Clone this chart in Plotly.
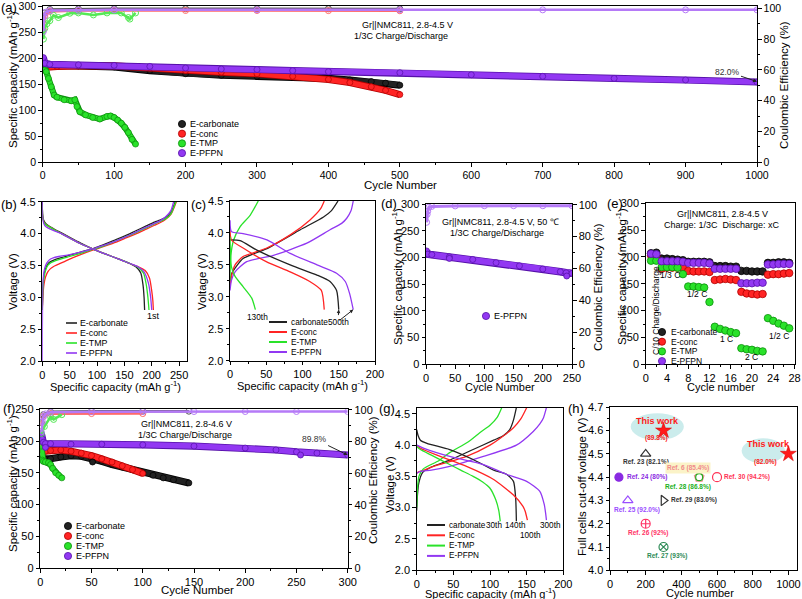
import plotly.graph_objects as go

W, H = 802, 599
FONT = "Arial, 'Liberation Sans', Helvetica, sans-serif"
TICK_A = 10.5
TICK = 11
TITLE = 11.5
TITLE_S = 11

K, K_E = "#222222", "#000000"
R, R_E = "#ff2424", "#b00000"
G, G_E = "#2ae22a", "#0b8f0b"
P, P_E = "#9238f2", "#5510a8"
P_CE = "#b57af7"

# ================= DATA =================
# (a) Gr||NMC811 2.8-4.5 V, 1/3C, 1000 cycles
a_carb_cyc = [1, 5, 20, 50, 80, 100, 150, 200, 250, 300, 350, 400, 430, 460, 480, 500]
a_carb_cap = [184, 185, 186, 185, 184, 183, 176, 170, 167, 165, 164, 161, 158, 155, 152, 148]
a_conc_cyc = [1, 5, 20, 50, 100, 150, 200, 250, 300, 350, 400, 430, 460, 480, 500]
a_conc_cap = [182, 183, 184, 185, 185, 181, 176, 173, 170, 165, 159, 153, 145, 138, 130]
a_tmp_cyc = [1, 3, 5, 8, 12, 16, 20, 30, 40, 45, 48, 52, 60, 70, 80, 90, 95, 100, 105, 110, 115, 120, 125, 130]
a_tmp_cap = [190, 177, 174, 161, 145, 129, 125, 120, 118, 120, 107, 97, 91, 86, 83, 88, 89, 86, 81, 75, 67, 57, 44, 35]
a_pfpn_cyc = [1, 3, 10, 50, 100, 150, 200, 250, 300, 350, 400, 500, 600, 700, 800, 900, 1000]
a_pfpn_cap = [201, 190, 188, 187, 186, 184, 181, 179, 178, 176, 174, 172, 168, 165, 161, 158, 154]
a_ce_carb_cyc = [1, 3, 10, 50, 100, 200, 300, 400, 500]
a_ce_carb = [90, 97, 99.3, 99.6, 99.7, 99.7, 99.7, 99.7, 99.6]
a_ce_conc_cyc = [1, 3, 10, 50, 100, 200, 300, 400, 500]
a_ce_conc = [86, 95, 98, 98.5, 98.6, 98.6, 98.6, 98.5, 98.4]
a_ce_conc_out_cyc = [152, 366, 449]
a_ce_conc_out = [97.2, 95.7, 95.7]
a_ce_tmp_cyc = [1, 3, 6, 10, 15, 22, 38, 50, 71, 90, 110, 120, 122, 130]
a_ce_tmp = [80, 87, 90, 92, 95.5, 94, 96.8, 97, 95.7, 97, 97, 94, 93, 97]
a_ce_pfpn_cyc = [1, 2, 4, 10, 50, 100, 300, 500, 700, 900, 1000]
a_ce_pfpn = [85, 94.6, 97.5, 98.5, 98.8, 99, 99, 99, 99, 99, 99]
a_ce_pfpn_out_cyc = [675, 935]
a_ce_pfpn_out = [96.5, 98.0]

# (b) 1st cycle voltage profiles
b_carb_ch_q = [0, 1, 3, 6, 10, 15, 20, 30, 50, 70, 92, 110, 130, 150, 170, 190, 205, 215, 225, 235, 243]
b_carb_ch_v = [2.8, 3.15, 3.35, 3.45, 3.52, 3.56, 3.58, 3.61, 3.66, 3.71, 3.76, 3.82, 3.89, 3.96, 4.04, 4.12, 4.18, 4.21, 4.25, 4.33, 4.5]
b_conc_ch_q = [0, 1, 3, 6, 10, 15, 20, 30, 50, 70, 92, 110, 130, 150, 170, 190, 205, 215, 225, 235, 245]
b_conc_ch_v = [2.8, 3.0, 3.2, 3.32, 3.4, 3.45, 3.48, 3.52, 3.6, 3.67, 3.74, 3.79, 3.85, 3.92, 3.99, 4.07, 4.13, 4.17, 4.22, 4.3, 4.5]
b_tmp_ch_q = [0, 1, 3, 6, 10, 15, 20, 30, 50, 70, 92, 110, 130, 150, 170, 190, 205, 215, 225, 235, 244]
b_tmp_ch_v = [2.8, 3.1, 3.3, 3.42, 3.5, 3.54, 3.56, 3.59, 3.64, 3.69, 3.75, 3.8, 3.87, 3.94, 4.01, 4.09, 4.15, 4.19, 4.23, 4.31, 4.5]
b_pfpn_ch_q = [0, 1, 3, 6, 10, 15, 20, 30, 50, 70, 92, 110, 130, 150, 170, 190, 205, 215, 225, 235, 240]
b_pfpn_ch_v = [2.0, 3.2, 3.4, 3.5, 3.56, 3.6, 3.62, 3.64, 3.67, 3.71, 3.76, 3.81, 3.87, 3.94, 4.02, 4.1, 4.16, 4.2, 4.26, 4.36, 4.5]
b_carb_dc_q = [0, 0.5, 2, 5, 10, 20, 35, 50, 70, 92, 115, 140, 160, 172, 180, 184, 186, 187]
b_carb_dc_v = [4.5, 4.3, 4.22, 4.17, 4.13, 4.08, 4.01, 3.94, 3.85, 3.76, 3.68, 3.6, 3.53, 3.47, 3.38, 3.2, 3.0, 2.8]
b_conc_dc_q = [0, 0.5, 2, 5, 10, 20, 35, 50, 70, 92, 115, 140, 160, 175, 188, 196, 200, 202, 203]
b_conc_dc_v = [4.45, 4.28, 4.2, 4.15, 4.12, 4.07, 4.0, 3.93, 3.84, 3.76, 3.68, 3.6, 3.53, 3.48, 3.42, 3.3, 3.1, 2.95, 2.8]
b_tmp_dc_q = [0, 0.5, 2, 5, 10, 20, 35, 50, 70, 92, 115, 140, 160, 175, 185, 190, 193, 195]
b_tmp_dc_v = [4.45, 4.3, 4.2, 4.15, 4.12, 4.07, 4.0, 3.93, 3.84, 3.76, 3.68, 3.6, 3.53, 3.47, 3.38, 3.2, 3.0, 2.8]
b_pfpn_dc_q = [0, 0.5, 2, 5, 10, 20, 35, 50, 70, 92, 115, 140, 160, 175, 186, 194, 198, 200]
b_pfpn_dc_v = [4.5, 4.28, 4.18, 4.12, 4.09, 4.05, 4.0, 3.93, 3.84, 3.76, 3.68, 3.6, 3.53, 3.48, 3.4, 3.22, 3.0, 2.8]

# (c) late-cycle voltage profiles
c_carb_ch_q = [0, 1, 3, 7, 18, 50, 97, 129, 140, 149]
c_carb_ch_v = [3.2, 3.3, 3.38, 3.45, 3.6, 3.75, 4.05, 4.25, 4.35, 4.5]
c_carb_dc_q = [0, 14, 37, 83, 120, 138, 147, 150]
c_carb_dc_v = [3.89, 3.88, 3.73, 3.5, 3.34, 3.24, 3.1, 2.8]
c_conc_ch_q = [0, 2, 7, 18, 50, 83, 110, 125, 130]
c_conc_ch_v = [3.16, 3.32, 3.5, 3.63, 3.76, 3.97, 4.2, 4.38, 4.5]
c_conc_dc_q = [0, 2, 23, 50, 83, 110, 126, 130]
c_conc_dc_v = [4.07, 3.89, 3.73, 3.55, 3.39, 3.24, 3.1, 2.8]
c_tmp_ch_q = [0, 1, 5, 14, 28, 39]
c_tmp_ch_v = [3.25, 3.63, 3.89, 4.1, 4.28, 4.5]
c_tmp_dc_q = [0, 2, 7, 18, 30, 35]
c_tmp_dc_v = [3.94, 3.47, 3.32, 3.16, 2.98, 2.8]
c_pfpn_ch_q = [0, 2, 7, 23, 60, 106, 138, 154, 161, 167, 170]
c_pfpn_ch_v = [3.1, 3.26, 3.39, 3.55, 3.65, 3.84, 4.05, 4.15, 4.23, 4.35, 4.5]
c_pfpn_dc_q = [0, 2, 18, 51, 83, 120, 147, 159, 165, 170]
c_pfpn_dc_v = [4.2, 4.02, 3.99, 3.89, 3.68, 3.5, 3.37, 3.24, 3.05, 2.8]

# (d) E-PFPN at 50 C
d_cyc = [1, 3, 10, 40, 80, 120, 160, 200, 230, 240, 250]
d_cap = [212, 206, 205, 201, 196, 190, 184, 178, 173, 171, 170]
d_out_cyc = [40, 241]
d_out_cap = [198, 165]
d_ce_cyc = [1, 2, 3, 5, 10, 50, 100, 150, 200, 250]
d_ce = [89, 94, 96, 98.5, 99, 99.3, 99.4, 99.4, 99.4, 99.4]
d_ce_out_cyc = [40, 241]
d_ce_out = [99.2, 97.3]

# (e) rate capability
e_cyc = [1, 2, 3, 4, 5, 6, 7, 8, 9, 10, 11, 12, 13, 14, 15, 16, 17, 18, 19, 20, 21, 22, 23, 24, 25, 26, 27]
e_carb = [207, 208, 197, 197, 196, 195, 194, 191, 191, 191, 191, 190, 183, 183, 183, 182, 182, 174, 174, 173, 173, 173, 189, 189, 190, 190, 189]
e_conc = [203, 202, 178, 180, 180, 180, 180, 174, 173, 173, 173, 172, 157, 158, 159, 158, 157, 135, 132, 131, 130, 131, 167, 168, 168, 169, 170]
e_tmp = [193, 193, 181, 181, 181, 180, 168, 145, 145, 144, 143, 116, 70, 66, 63, 60, 58, 30, 28, 27, 25, 24, 86, 81, 76, 72, 67]
e_pfpn = [206, 205, 192, 192, 192, 192, 191, 189, 189, 189, 189, 188, 178, 178, 178, 178, 178, 151, 151, 151, 152, 152, 186, 186, 187, 187, 187]
e_xticks = [0, 4, 8, 12, 16, 20, 24, 28]

# (f) Gr||NMC811 2.8-4.6 V
f_carb_cyc = [1, 5, 10, 20, 30, 40, 50, 60, 70, 80, 90, 100, 110, 120, 130, 145]
f_carb_cap = [172, 171, 172, 175, 177, 176, 173, 168, 163, 159, 155, 150, 146, 142, 139, 134]
f_conc_cyc = [1, 2, 5, 10, 20, 30, 40, 50, 60, 70, 80, 90, 100]
f_conc_cap = [190, 186, 184, 185, 186, 184, 181, 177, 172, 167, 161, 155, 149]
f_tmp_cyc = [1, 2, 3, 5, 8, 10, 12, 15, 18, 21]
f_tmp_cap = [192, 170, 168, 167, 166, 163, 157, 150, 146, 142]
f_pfpn_cyc = [1, 2, 3, 5, 10, 30, 60, 100, 150, 200, 230, 250, 270, 300]
f_pfpn_cap = [212, 203, 198, 196, 196, 195, 195, 194, 192, 189, 186, 183, 181, 178]
f_out_carb_cyc = [51]
f_out_carb = [167]
f_out_pfpn_cyc = [5, 254]
f_out_pfpn = [190, 178]
f_ce_main_cyc = [1, 2, 3, 5, 10, 50, 100, 150, 200, 250, 300]
f_ce_pfpn = [86, 92.5, 95.6, 97.5, 98.5, 98.9, 99, 99, 99, 99, 99]
f_ce_conc_cyc = [1, 3, 10, 50, 100]
f_ce_conc = [90, 96, 97.6, 97.7, 97.7]
f_ce_carb_cyc = [1, 3, 10, 50, 100, 145]
f_ce_carb = [92, 97, 98.8, 99.2, 99.2, 99.2]
f_ce_tmp_cyc = [1, 4, 10, 13, 21]
f_ce_tmp = [85, 89.5, 95.6, 94, 97]
f_ce_out_cyc = [52, 255]
f_ce_out = [97.2, 97.0]

# (g) late-cycle voltage profiles at 4.6 V
g_carb_ch_q = [0, 1, 3, 8, 20, 45, 77, 105, 118, 127, 132, 136]
g_carb_ch_v = [2.95, 3.2, 3.4, 3.56, 3.65, 3.76, 3.93, 4.08, 4.15, 4.25, 4.4, 4.6]
g_carb_dc_q = [0, 2, 5, 14, 45, 77, 105, 123, 132, 135, 136]
g_carb_dc_v = [4.25, 4.15, 4.08, 4.03, 3.93, 3.77, 3.6, 3.53, 3.42, 3.15, 2.78]
g_tmp_ch_q = [0, 1, 3, 9, 30, 45, 70, 86, 100, 110, 116]
g_tmp_ch_v = [3.0, 3.3, 3.5, 3.62, 3.75, 3.88, 4.05, 4.2, 4.32, 4.45, 4.6]
g_tmp_dc_q = [0, 5, 20, 45, 60, 77, 90, 100, 108, 112, 114]
g_tmp_dc_v = [3.98, 3.93, 3.84, 3.69, 3.6, 3.5, 3.41, 3.31, 3.12, 2.95, 2.78]
g_conc_ch_q = [0, 2, 10, 23, 68, 100, 114, 132, 142, 150]
g_conc_ch_v = [3.55, 3.57, 3.6, 3.66, 3.82, 4.0, 4.11, 4.28, 4.42, 4.6]
g_conc_dc_q = [0, 5, 32, 68, 105, 132, 145, 148, 151]
g_conc_dc_v = [4.0, 3.95, 3.82, 3.66, 3.45, 3.2, 3.02, 2.94, 2.8]
g_pfpn_ch_q = [0, 5, 20, 45, 91, 136, 159, 168, 173, 177]
g_pfpn_ch_v = [3.55, 3.58, 3.6, 3.66, 3.82, 4.0, 4.22, 4.34, 4.44, 4.6]
g_pfpn_dc_q = [0, 10, 45, 91, 123, 150, 168, 174, 176, 177]
g_pfpn_dc_v = [4.0, 3.95, 3.82, 3.69, 3.53, 3.42, 3.26, 3.05, 2.9, 2.8]

# (h) comparison with literature
h_labels = ["Ref. 23 (82.1%)", "Ref. 24 (80%)", "Ref. 6 (85.4%)", "Ref. 28 (86.8%)",
            "Ref. 30 (94.2%)", "Ref. 25 (92.0%)", "Ref. 29 (83.0%)", "Ref. 26 (92%)", "Ref. 27 (93%)"]
h_cycles = [200, 50, 500, 500, 600, 100, 300, 200, 300]
h_volts = [4.5, 4.4, 4.4, 4.4, 4.4, 4.3, 4.3, 4.2, 4.1]
h_this_cycles = [300, 1000]
h_this_volts = [4.6, 4.5]
h_this_ret = ["(89.8%)", "(82.0%)"]

# ================= FIGURE =================
fig = go.Figure()
layout = dict(width=W, height=H, margin=dict(l=0, r=0, t=0, b=0, pad=0),
              paper_bgcolor="white", plot_bgcolor="white", showlegend=False,
              font=dict(family=FONT, size=11, color="black"))
shapes, annos = [], []


def dom(l, r, t, b):
    return [l / W, r / W], [1 - b / H, 1 - t / H]


def axkey(a):
    return a[0] + "axis" + a[1:]


def base_axis(rng, dtick, anchor, minor=None, fmt=None, mirror=True, tsize=TICK):
    d = dict(range=rng, dtick=dtick, tick0=0, anchor=anchor, showline=True, mirror=mirror,
             automargin=False, ticklabeloverflow="allow",
             linecolor="black", linewidth=1, ticks="outside", ticklen=3.5, tickwidth=1,
             tickcolor="black", showgrid=False, zeroline=False,
             tickfont=dict(family=FONT, size=tsize, color="black"))
    if minor:
        d["minor"] = dict(dtick=minor, ticks="outside", ticklen=2, tickcolor="black", showgrid=False)
    if fmt:
        d["tickformat"] = fmt
    return d


def panel(xa, ya, box, xr, xd, yr, yd, xminor=None, yminor=None, yfmt=None, ce=None, tsize=TICK):
    xdom, ydom = dom(*box)
    ax = base_axis(xr, xd, ya, xminor, tsize=tsize)
    ax["domain"] = xdom
    ay = base_axis(yr, yd, xa, yminor, yfmt, tsize=tsize)
    ay["domain"] = ydom
    layout[axkey(xa)] = ax
    layout[axkey(ya)] = ay
    if ce:
        yc, cer = ce
        ac = base_axis(cer, 20, xa, 10, mirror=False, tsize=tsize)
        ac.update(overlaying=ya, side="right")
        layout[axkey(yc)] = ac


def txt(px, py, text, size=9, color="black", xanchor="center", angle=0, bold=False, bg=None):
    a = dict(x=px / W, y=1 - py / H, xref="paper", yref="paper", text=("<b>%s</b>" % text) if bold else text,
             showarrow=False, xanchor=xanchor, yanchor="middle", textangle=angle,
             font=dict(family=FONT, size=size, color=color))
    if bg:
        a["bgcolor"] = bg
    annos.append(a)


def dot_swatch(px, py, color, edge, r=3.6):
    shapes.append(dict(type="circle", xref="paper", yref="paper", xsizemode="pixel", ysizemode="pixel",
                       xanchor=px / W, yanchor=1 - py / H, x0=-r, x1=r, y0=-r, y1=r,
                       fillcolor=color, line=dict(color=edge, width=0.8)))


def line_swatch(px0, px1, py, color, width=1.5):
    shapes.append(dict(type="line", xref="paper", yref="paper", x0=px0 / W, x1=px1 / W,
                       y0=1 - py / H, y1=1 - py / H, line=dict(color=color, width=width)))


def band(x, y, xa, ya, color, edge, width=5.5, msize=6):
    fig.add_trace(go.Scatter(x=x, y=y, xaxis=xa, yaxis=ya, mode="lines", hoverinfo="skip",
                             line=dict(color=edge, width=width + 1.6)))
    fig.add_trace(go.Scatter(x=x, y=y, xaxis=xa, yaxis=ya, mode="lines+markers", hoverinfo="skip",
                             line=dict(color=color, width=width),
                             marker=dict(size=msize, color=color, line=dict(color=edge, width=0.7))))


def pts(x, y, xa, ya, color, edge, size=6, symbol="circle"):
    fig.add_trace(go.Scatter(x=x, y=y, xaxis=xa, yaxis=ya, mode="markers", hoverinfo="skip",
                             marker=dict(size=size, color=color, symbol=symbol, line=dict(color=edge, width=0.8))))


def ceband(x, y, xa, ya, color, width=2.5):
    fig.add_trace(go.Scatter(x=x, y=y, xaxis=xa, yaxis=ya, mode="lines+markers", hoverinfo="skip",
                             line=dict(color=color, width=width),
                             marker=dict(size=6, symbol="circle-open", color=color, line=dict(width=1))))


def curve(x, y, xa, ya, color, width=1.3):
    fig.add_trace(go.Scatter(x=x, y=y, xaxis=xa, yaxis=ya, mode="lines", hoverinfo="skip",
                             line=dict(color=color, width=width, shape="spline", smoothing=0.6)))


CAP_T = "Specific capacity (mAh g<sup>-1</sup>)"
CE_T = "Coulombic Efficiency (%)"

# ---------- (a) ----------
panel("x", "y", (42.7, 757, 6, 162.3), [0, 1000], 100, [0, 300], 50, xminor=50, yminor=25,
      ce=("y2", [0, 101.5]), tsize=TICK_A)
ceband(a_ce_carb_cyc, a_ce_carb, "x", "y2", "#555555")
ceband(a_ce_conc_cyc, a_ce_conc, "x", "y2", "#ff6a6a")
ceband(a_ce_tmp_cyc, a_ce_tmp, "x", "y2", "#55e855")
ceband(a_ce_pfpn_cyc, a_ce_pfpn, "x", "y2", P_CE)
pts(a_ce_conc_out_cyc, a_ce_conc_out, "x", "y2", "rgba(0,0,0,0)", "#ff6a6a", 6, "circle-open")
pts(a_ce_pfpn_out_cyc, a_ce_pfpn_out, "x", "y2", "rgba(0,0,0,0)", P_CE, 6, "circle-open")
band(a_carb_cyc, a_carb_cap, "x", "y", K, K_E)
band(a_conc_cyc, a_conc_cap, "x", "y", R, R_E)
band(a_tmp_cyc, a_tmp_cap, "x", "y", G, G_E, width=4.5)
band(a_pfpn_cyc, a_pfpn_cap, "x", "y", P, P_E)
txt(9, 8, "(a)", 13)
txt(407, 25, "Gr||NMC811, 2.8-4.5 V", 9)
txt(401, 36, "1/3C Charge/Discharge", 9)
txt(400, 185, "Cycle Number", TITLE)
txt(12, 80, CAP_T, TITLE, angle=-90)
txt(784, 85, CE_T, TITLE, angle=-90)
annos.append(dict(x=1000, y=155, xref="x", yref="y", text="82.0%", showarrow=True, ax=-30, ay=-10,
                  arrowhead=2, arrowsize=0.8, arrowwidth=1, arrowcolor="#222",
                  font=dict(family=FONT, size=8.5, color="#333")))
for i, (nm, c, e) in enumerate([("E-carbonate", K, K_E), ("E-conc", R, R_E), ("E-TMP", G, G_E), ("E-PFPN", P, P_E)]):
    yy = 124 + i * 9.7
    dot_swatch(182, yy, c, e)
    txt(188, yy, nm, 9, xanchor="left")

# ---------- (b) ----------
panel("x2", "y3", (42.3, 187.3, 201.7, 361), [0, 265], 50, [2.0, 4.5], 0.5, xminor=25, yminor=0.25, yfmt=".1f")
for q, v, c in [(b_carb_ch_q, b_carb_ch_v, K), (b_conc_ch_q, b_conc_ch_v, R), (b_tmp_ch_q, b_tmp_ch_v, G),
                (b_pfpn_ch_q, b_pfpn_ch_v, P), (b_carb_dc_q, b_carb_dc_v, K), (b_conc_dc_q, b_conc_dc_v, R),
                (b_tmp_dc_q, b_tmp_dc_v, G), (b_pfpn_dc_q, b_pfpn_dc_v, P)]:
    curve(q, v, "x2", "y3", c)
txt(9, 205, "(b)", 13)
txt(153, 316, "1st", 9)
txt(115, 386, CAP_T, TITLE_S)
txt(13, 282, "Voltage (V)", TITLE, angle=-90)
for i, (nm, c) in enumerate([("E-carbonate", K), ("E-conc", R), ("E-TMP", G), ("E-PFPN", P)]):
    yy = 323 + i * 10
    line_swatch(66, 77, yy, c, 1.6)
    txt(78, yy, nm, 8.8, xanchor="left")

# ---------- (c) ----------
panel("x3", "y4", (230, 375, 201, 360.7), [0, 200], 50, [2.0, 4.5], 0.5, xminor=25, yminor=0.25, yfmt=".1f")
for q, v, c in [(c_carb_ch_q, c_carb_ch_v, K), (c_conc_ch_q, c_conc_ch_v, R), (c_tmp_ch_q, c_tmp_ch_v, G),
                (c_pfpn_ch_q, c_pfpn_ch_v, P), (c_carb_dc_q, c_carb_dc_v, K), (c_conc_dc_q, c_conc_dc_v, R),
                (c_tmp_dc_q, c_tmp_dc_v, G), (c_pfpn_dc_q, c_pfpn_dc_v, P)]:
    curve(q, v, "x3", "y4", c)
txt(198, 205, "(c)", 13)
txt(257, 317, "130th", 8.3)
for i, xx in enumerate((c_carb_dc_q[-1], c_pfpn_dc_q[-1])):
    annos.append(dict(x=xx, y=2.8, xref="x3", yref="y4", text="500th" if i == 0 else "",
                      showarrow=True, ax=338 - (230 + xx * 0.725), ay=12, arrowhead=2, arrowsize=0.7,
                      arrowwidth=1, arrowcolor="#222", font=dict(family=FONT, size=8.3, color="black")))
txt(302, 385, CAP_T, TITLE_S)
txt(202, 282, "Voltage (V)", TITLE, angle=-90)
for i, (nm, c) in enumerate([("carbonate", K), ("E-conc", R), ("E-TMP", G), ("E-PFPN", P)]):
    yy = 322 + i * 10
    line_swatch(269, 287, yy, c, 2)
    txt(289, yy, nm, 8.3, xanchor="left")

# ---------- (d) ----------
panel("x4", "y5", (426, 572, 204, 364), [0, 250], 50, [0, 300], 50, xminor=25, yminor=25,
      ce=("y6", [0, 100.5]))
ceband(d_ce_cyc, d_ce, "x4", "y6", P_CE, 3)
pts(d_ce_out_cyc, d_ce_out, "x4", "y6", "rgba(0,0,0,0)", P_CE, 6, "circle-open")
band(d_cyc, d_cap, "x4", "y5", P, P_E, width=6)
pts(d_out_cyc, d_out_cap, "x4", "y5", P, P_E, 6)
txt(389, 204, "(d)", 13)
txt(500, 222, "Gr||NMC811, 2.8-4.5 V, 50 \u2103", 9)
txt(497, 233, "1/3C Charge/Discharge", 9)
txt(500, 387, "Cycle Number", TITLE_S)
txt(397, 277, CAP_T, TITLE, angle=-90)
txt(598, 287, CE_T, TITLE, angle=-90)
dot_swatch(486, 316, P, P_E)
txt(492, 316, "E-PFPN", 9, xanchor="left")

# ---------- (e) ----------
panel("x5", "y7", (645.7, 794.5, 203.3, 364.3), [0, 28], 4, [0, 300], 50, xminor=2, yminor=25)
layout["xaxis5"].update(tickmode="array", tickvals=e_xticks, ticktext=[str(v) for v in e_xticks])
for ys, c, e in [(e_carb, K, K_E), (e_conc, R, R_E), (e_tmp, G, G_E), (e_pfpn, P, P_E)]:
    pts(e_cyc, ys, "x5", "y7", c, e, 7.5)
txt(615, 204, "(e)", 13)
txt(722, 214, "Gr||NMC811, 2.8-4.5 V", 9)
txt(722, 225, "Charge: 1/3C  Discharge: xC", 9)
txt(670, 275, "1/3 C", 8.5)
txt(697, 294, "1/2 C", 8.5)
txt(726, 339, "1 C", 8.5)
txt(751, 357, "2 C", 8.5)
txt(779, 336, "1/2 C", 8.5)
txt(656, 311, "C/10 Charge/Discharge", 8.5, angle=-90)
txt(721, 387, "Cycle number", TITLE_S)
txt(621, 277, CAP_T, TITLE, angle=-90)
for i, (nm, c, e) in enumerate([("E-carbonate", K, K_E), ("E-conc", R, R_E), ("E-TMP", G, G_E), ("E-PFPN", P, P_E)]):
    yy = 332 + i * 9.7
    dot_swatch(662, yy, c, e)
    txt(669, yy, nm, 8.5, xanchor="left")

# ---------- (f) ----------
panel("x6", "y8", (40.3, 347.7, 409.3, 568), [0, 300], 50, [0, 250], 50, xminor=25, yminor=25,
      ce=("y9", [0, 100.4]))
ceband(f_ce_carb_cyc, f_ce_carb, "x6", "y9", "#555555")
ceband(f_ce_conc_cyc, f_ce_conc, "x6", "y9", "#ff6a6a")
ceband(f_ce_tmp_cyc, f_ce_tmp, "x6", "y9", "#55e855")
ceband(f_ce_main_cyc, f_ce_pfpn, "x6", "y9", P_CE)
pts(f_ce_out_cyc, f_ce_out, "x6", "y9", "rgba(0,0,0,0)", P_CE, 6, "circle-open")
band(f_carb_cyc, f_carb_cap, "x6", "y8", K, K_E)
band(f_conc_cyc, f_conc_cap, "x6", "y8", R, R_E)
band(f_tmp_cyc, f_tmp_cap, "x6", "y8", G, G_E, width=4.5)
band(f_pfpn_cyc, f_pfpn_cap, "x6", "y8", P, P_E)
pts(f_out_carb_cyc, f_out_carb, "x6", "y8", K, K_E, 6)
pts(f_out_pfpn_cyc, f_out_pfpn, "x6", "y8", P, P_E, 6)
txt(9, 408, "(f)", 13)
txt(186, 424, "Gr||NMC811, 2.8-4.6 V", 9)
txt(185, 435, "1/3C Charge/Discharge", 9)
annos.append(dict(x=300, y=178, xref="x6", yref="y8", text="89.8%", showarrow=True, ax=-33, ay=-16,
                  arrowhead=2, arrowsize=0.8, arrowwidth=1, arrowcolor="#222",
                  font=dict(family=FONT, size=8.5, color="#333")))
txt(197, 590, "Cycle Number", TITLE)
txt(12, 484, CAP_T, TITLE, angle=-90)
txt(373, 480, CE_T, TITLE, angle=-90)
for i, (nm, c, e) in enumerate([("E-carbonate", K, K_E), ("E-conc", R, R_E), ("E-TMP", G, G_E), ("E-PFPN", P, P_E)]):
    yy = 526 + i * 10
    dot_swatch(68, yy, c, e)
    txt(74, yy, nm, 9, xanchor="left")

# ---------- (g) ----------
panel("x7", "y10", (416.7, 563.3, 407.7, 570), [0, 200], 50, [2.0, 4.6], 0.5, xminor=25, yminor=0.25, yfmt=".1f")
for q, v, c in [(g_carb_ch_q, g_carb_ch_v, K), (g_conc_ch_q, g_conc_ch_v, R), (g_tmp_ch_q, g_tmp_ch_v, G),
                (g_pfpn_ch_q, g_pfpn_ch_v, P), (g_carb_dc_q, g_carb_dc_v, K), (g_conc_dc_q, g_conc_dc_v, R),
                (g_tmp_dc_q, g_tmp_dc_v, G), (g_pfpn_dc_q, g_pfpn_dc_v, P)]:
    curve(q, v, "x7", "y10", c)
txt(387, 408, "(g)", 13)
txt(494, 525, "30th", 8.2)
txt(515, 525, "140th", 8.2)
txt(530, 535, "100th", 8.2)
txt(550, 525, "300th", 8.2)
txt(490, 593, CAP_T, TITLE_S)
txt(390, 485, "Voltage (V)", TITLE, angle=-90)
for i, (nm, c) in enumerate([("carbonate", K), ("E-conc", R), ("E-TMP", G), ("E-PFPN", P)]):
    yy = 525 + i * 10.3
    line_swatch(427, 445, yy, c, 2)
    txt(447, yy, nm, 8.2, xanchor="left")

# ---------- (h) ----------
panel("x8", "y11", (610, 797.3, 407.3, 570.3), [0, 1050], 200, [4.0, 4.7], 0.1, xminor=100, yminor=0.05, yfmt=".1f")
shapes.append(dict(type="circle", xref="x8", yref="y11", x0=116, x1=414, y0=4.559, y1=4.674,
                   fillcolor="rgba(168,224,224,0.6)", line=dict(width=0), layer="below"))
shapes.append(dict(type="circle", xref="x8", yref="y11", x0=738, x1=981, y0=4.459, y1=4.567,
                   fillcolor="rgba(168,224,224,0.6)", line=dict(width=0), layer="below"))
h_sym = ["triangle-up-open", "circle", "pentagon-open", "circle-open", "circle-open",
         "triangle-up-open", "triangle-right-open", "circle-cross-open", "circle-x-open"]
h_col = ["#333333", "#8a2be2", "#f08a8a", "#22b022", "#ff3355", "#9a4dff", "#333333", "#ff3366", "#2e8b57"]
h_size = [9, 8, 10, 7, 9, 9, 9, 9, 9]
h_dx = [0, 6, -11, -11, 5, 9, 5, 2, 3]
h_dy = [-8, 0, 9, -10, 0, -10, 0, -9, -9]
h_anchor = ["center", "left", "center", "center", "left", "center", "left", "center", "center"]
h_bg = [None, None, "#fbf3c8", None, None, None, None, None, None]
for i in range(len(h_labels)):
    fig.add_trace(go.Scatter(x=[h_cycles[i]], y=[h_volts[i]], xaxis="x8", yaxis="y11", mode="markers",
                             hoverinfo="skip",
                             marker=dict(size=h_size[i], symbol=h_sym[i], color=h_col[i],
                                         line=dict(color=h_col[i], width=1.2))))
    a = dict(x=h_cycles[i], y=h_volts[i], xref="x8", yref="y11", text="<b>%s</b>" % h_labels[i],
             showarrow=False, xanchor=h_anchor[i], yanchor="middle", xshift=h_dx[i], yshift=h_dy[i],
             font=dict(family=FONT, size=6.5, color=h_col[i]))
    if h_bg[i]:
        a["bgcolor"] = h_bg[i]
    annos.append(a)
fig.add_trace(go.Scatter(x=h_this_cycles, y=h_this_volts, xaxis="x8", yaxis="y11", mode="markers",
                         hoverinfo="skip", marker=dict(size=12, symbol="star", color="#ff1a1a",
                                                       line=dict(color="#cc0000", width=0.5))))
for i, (sx, sy) in enumerate([(-6, 9.5), (-20, 9.5)]):
    annos.append(dict(x=h_this_cycles[i], y=h_this_volts[i], xref="x8", yref="y11", text="<b>This work</b>",
                      showarrow=False, xshift=sx, yshift=sy, font=dict(family=FONT, size=9, color="#ff1a1a")))
for i, (sx, sy) in enumerate([(-7, -7), (-23, -8)]):
    annos.append(dict(x=h_this_cycles[i], y=h_this_volts[i], xref="x8", yref="y11",
                      text="<b>%s</b>" % h_this_ret[i],
                      showarrow=False, xshift=sx, yshift=sy, font=dict(family=FONT, size=6.5, color="#ff1a1a")))
txt(576, 408, "(h)", 13)
txt(700, 593, "Cycle number", TITLE_S)
txt(582, 487, "Full cells cut-off voltage (V)", TITLE, angle=-90)

layout["shapes"] = shapes
layout["annotations"] = annos
fig.update_layout(**layout)
fig.write_html("out.html", config={"displayModeBar": False},
               post_script="document.body.style.margin='0';document.body.style.padding='0';")
